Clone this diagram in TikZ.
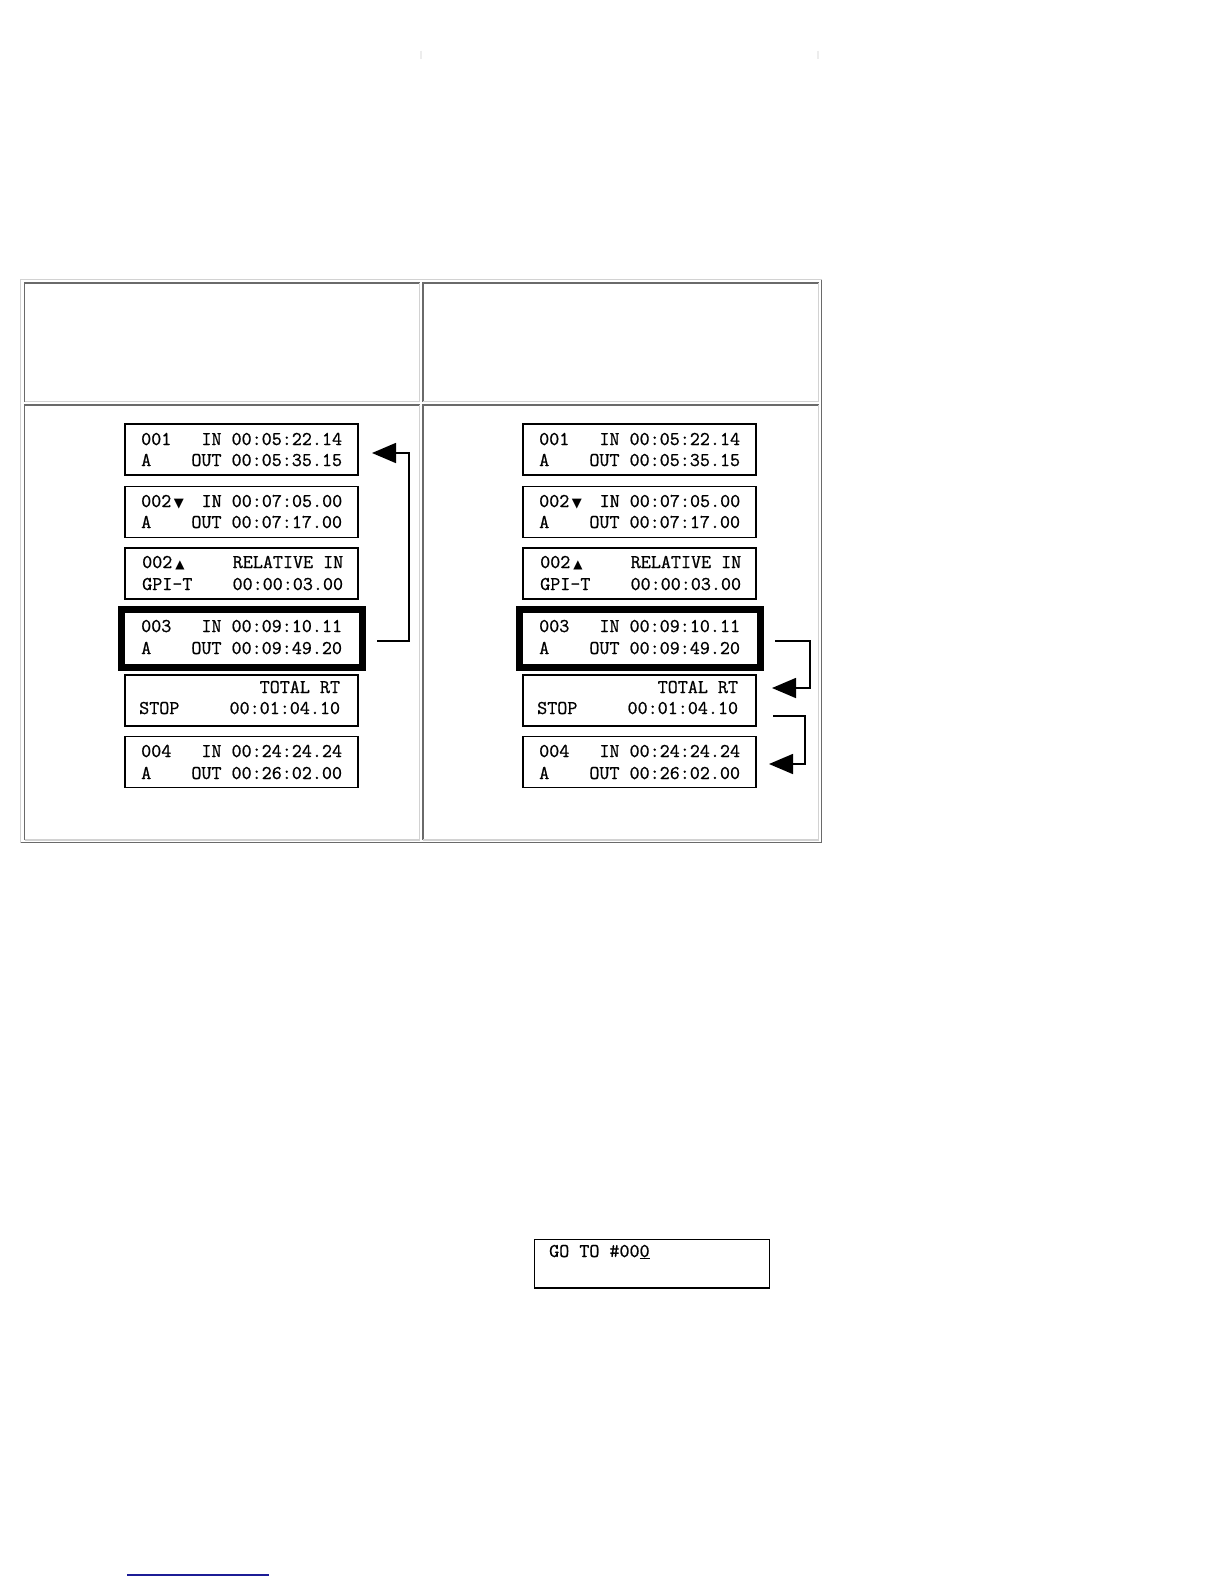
\documentclass[tikz,border=0pt]{standalone}
\usepackage{fontspec}
\newfontfamily\symfont{DejaVu Sans}
\newfontfamily\lcdfont[FakeBold=0.8]{Latin Modern Mono}
\usetikzlibrary{arrows.meta}
\definecolor{bdark}{HTML}{6A6A6A}
\definecolor{blight}{HTML}{D2D2D2}
\definecolor{linkblue}{HTML}{1C1C96}
\newcommand\symdown{\makebox[10.24pt][l]{\hspace{2.5pt}{\symfont\fontsize{13}{13}\selectfont ▼}}}
\newcommand\symup{\makebox[10.24pt][l]{\hspace{3pt}{\symfont\fontsize{12}{12}\selectfont ▲}}}
\begin{document}
\begin{tikzpicture}[x=1pt,y=-1pt,
  lcd/.style={font=\lcdfont\fontsize{19.5}{19.5}\selectfont, anchor=base west, inner sep=0pt},
  lbox/.style={draw=black, line width=1.6pt, inner sep=0pt, outer sep=0pt, minimum width=233.4pt, minimum height=51.2pt},
  thickbox/.style={draw=black, line width=7pt, inner sep=0pt, outer sep=0pt, minimum width=241pt, minimum height=58pt},
  gobox/.style={draw=black, line width=1.6pt, inner sep=0pt, outer sep=0pt, minimum width=235pt, minimum height=48.4pt},
  conn/.style={draw=black, line width=1.6pt, -{Triangle[length=24pt,width=20pt]}},
  dk/.style={draw=bdark, line width=1.8pt},
  lt/.style={draw=blight, line width=1.8pt}]
\useasboundingbox[fill=white] (0,0) rectangle (1224,1584);

% faint marks at top
\draw[draw=black!7, line width=1.5pt] (421,51) -- (421,59);
\draw[draw=black!7, line width=1.5pt] (818,51) -- (818,59);

% table outer border
\draw[lt] (20.5,843) -- (20.5,279.5) -- (822,279.5);
\draw[dk] (20.5,842.5) -- (821.5,842.5) -- (821.5,279.5);
% cells
\draw[dk] (24.5,401.5) -- (24.5,283) -- (419.5,283);
\draw[lt] (24.5,401.5) -- (419.5,401.5) -- (419.5,283);
\draw[dk] (423,401.5) -- (423,283) -- (818.5,283);
\draw[lt] (423,401.5) -- (818.5,401.5) -- (818.5,283);
\draw[dk] (24.5,840) -- (24.5,405) -- (419.5,405);
\draw[lt] (24.5,840) -- (419.5,840) -- (419.5,405);
\draw[dk] (423,840) -- (423,405) -- (818.5,405);
\draw[lt] (423,840) -- (818.5,840) -- (818.5,405);

% ---------- left panel ----------
\node[lbox] (L1) at (241.5,449.5) {};
\node[lbox] (L2) at (241.5,512) {};
\node[lbox] (L3) at (241.5,573.5) {};
\node[thickbox] (L4) at (242,638.5) {};
\node[lbox] (L5) at (241.5,700.5) {};
\node[lbox] (L6) at (241.5,762) {};

\node[lcd] (L1a) at (141,445) {001~~~IN~00:05:22.14};
\node[lcd] (L1b) at (141,466) {A~~~~OUT~00:05:35.15};
\node[lcd] (L2a) at (141,507) {002\symdown~~IN~00:07:05.00};
\node[lcd] (L2b) at (141,528) {A~~~~OUT~00:07:17.00};
\node[lcd] (L3a) at (142,568) {002\symup~~~~~RELATIVE~IN};
\node[lcd] (L3b) at (142,590) {GPI-T~~~~00:00:03.00};
\node[lcd] (L4a) at (141,632) {003~~~IN~00:09:10.11};
\node[lcd] (L4b) at (141,654) {A~~~~OUT~00:09:49.20};
\node[lcd] (L5a) at (139,693) {~~~~~~~~~~~~TOTAL~RT};
\node[lcd] (L5b) at (139,714) {STOP~~~~~00:01:04.10};
\node[lcd] (L6a) at (141,757) {004~~~IN~00:24:24.24};
\node[lcd] (L6b) at (141,779) {A~~~~OUT~00:26:02.00};

\coordinate (la) at (377,641);
\coordinate (lb) at (372,453);
\draw[conn] (la) -- (409,641) |- (lb);

% ---------- right panel ----------
\node[lbox] (R1) at (639.5,449.5) {};
\node[lbox] (R2) at (639.5,512) {};
\node[lbox] (R3) at (639.5,573.5) {};
\node[thickbox] (R4) at (640,638.5) {};
\node[lbox] (R5) at (639.5,700.5) {};
\node[lbox] (R6) at (639.5,762) {};

\node[lcd] (R1a) at (539,445) {001~~~IN~00:05:22.14};
\node[lcd] (R1b) at (539,466) {A~~~~OUT~00:05:35.15};
\node[lcd] (R2a) at (539,507) {002\symdown~~IN~00:07:05.00};
\node[lcd] (R2b) at (539,528) {A~~~~OUT~00:07:17.00};
\node[lcd] (R3a) at (540,568) {002\symup~~~~~RELATIVE~IN};
\node[lcd] (R3b) at (540,590) {GPI-T~~~~00:00:03.00};
\node[lcd] (R4a) at (539,632) {003~~~IN~00:09:10.11};
\node[lcd] (R4b) at (539,654) {A~~~~OUT~00:09:49.20};
\node[lcd] (R5a) at (537,693) {~~~~~~~~~~~~TOTAL~RT};
\node[lcd] (R5b) at (537,714) {STOP~~~~~00:01:04.10};
\node[lcd] (R6a) at (539,757) {004~~~IN~00:24:24.24};
\node[lcd] (R6b) at (539,779) {A~~~~OUT~00:26:02.00};

\coordinate (ra) at (775,641);
\coordinate (rb) at (772,688);
\draw[conn] (ra) -- (810,641) |- (rb);
\coordinate (rc) at (773,716);
\coordinate (rd) at (769,764);
\draw[conn] (rc) -- (805,716) |- (rd);

% ---------- GO TO box ----------
\node[gobox] (G) at (652,1263.5) {};
\node[lcd] (Gt) at (549,1257) {GO~TO~\#00\underline{0}};

% link underline
\draw[linkblue, line width=1.8pt] (127,1575) -- (269,1575);
\end{tikzpicture}
\end{document}
